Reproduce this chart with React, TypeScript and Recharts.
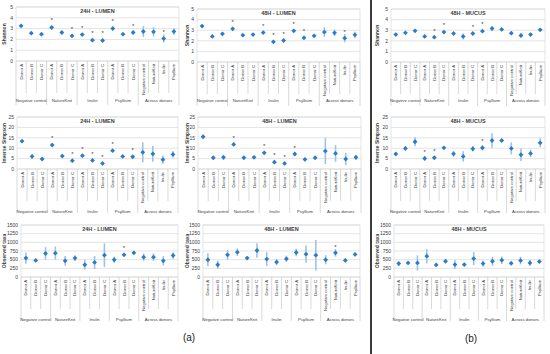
import React from "react";
import {
  ScatterChart,
  Scatter,
  XAxis,
  YAxis,
  CartesianGrid,
  ErrorBar,
  ReferenceArea,
} from "recharts";

// x-axis categories (donor level) and the treatment groups under them
const categories = [
  "Donor A", "Donor B", "Donor C",
  "Donor A", "Donor B", "Donor C",
  "Donor A", "Donor B", "Donor C",
  "Donor A", "Donor B", "Donor C",
  "Negative control", "NatureKnit", "Inulin", "Psyllium",
];
const groups = ["Negative control", "NatureKnit", "Inulin", "Psyllium", "Across donors"];
const groupStarts = [0, 3, 6, 9, 12, 16];

const shannonTicks = [0, 1, 2, 3, 4, 5];
const simpsonTicks = [0, 5, 10, 15, 20, 25];
const taxaTicks = [0, 250, 500, 750, 1000, 1250, 1500];

// Shannon
const shannon24Lumen = [3.26, 2.58, 2.48, 3.1, 2.64, 2.33, 2.45, 1.93, 1.9, 3.01, 2.48, 2.64, 2.73, 2.7, 2.08, 2.73];
const shannon24LumenErr = [0.06, 0.1, 0.05, 0.08, 0.06, 0.08, 0.12, 0.12, 0.12, 0.07, 0.05, 0.08, 0.5, 0.43, 0.38, 0.3];
const shannon24LumenStar = [null, null, null, 3.76, null, 2.95, 3.04, 2.55, 2.55, 3.66, null, 3.26, null, null, 2.72, null];

const shannon48Lumen = [3.39, 2.41, 2.66, 3.13, 2.53, 2.59, 2.78, 1.9, 2.03, 2.94, 2.28, 2.47, 2.82, 2.75, 2.25, 2.56];
const shannon48LumenErr = [0.06, 0.05, 0.15, 0.1, 0.05, 0.05, 0.08, 0.1, 0.1, 0.06, 0.06, 0.05, 0.45, 0.3, 0.4, 0.3];
const shannon48LumenStar = [null, null, null, 3.8, null, null, 3.42, 2.53, 2.66, 3.54, 2.88, null, null, null, 2.85, null];

const shannon48Mucus = [2.59, 2.75, 2.94, 2.41, 2.34, 2.82, 2.69, 2.41, 2.69, 2.91, 3.16, 3.07, 2.72, 2.5, 2.59, 3.04];
const shannon48MucusErr = [0.05, 0.05, 0.05, 0.15, 0.1, 0.1, 0.08, 0.28, 0.08, 0.1, 0.2, 0.05, 0.15, 0.2, 0.1, 0.12];
const shannon48MucusStar = [null, null, null, null, 2.97, 3.48, null, null, 3.29, 3.54, null, null, null, null, null, null];

// Inverse Simpson
const simpson24Lumen = [13.4, 6.05, 4.8, 11.5, 6.2, 4.0, 6.4, 4.1, 2.7, 8.8, 6.05, 5.9, 8.0, 7.3, 4.5, 7.0];
const simpson24LumenErr = [0.4, 1, 0.3, 0.8, 0.3, 0.6, 0.8, 0.8, 0.5, 0.6, 0.3, 0.6, 4.8, 3.8, 2, 1.6];
const simpson24LumenStar = [null, null, null, 14.8, null, 7.3, 9.7, 7.3, 5.9, 12.1, null, 9.2, null, null, null, null];

const simpson48Lumen = [15.5, 5.4, 5.6, 11.8, 5.4, 5.6, 7.8, 3.3, 2.7, 7.2, 4.6, 5.4, 8.6, 7.5, 4.8, 5.6];
const simpson48LumenErr = [1, 0.3, 1.3, 0.8, 0.3, 0.4, 0.6, 0.8, 0.4, 0.8, 0.4, 0.6, 6.2, 4, 3, 1.3];
const simpson48LumenStar = [null, null, null, 15.0, null, null, 11.1, 6.5, 6.0, 10.3, null, null, null, null, null, null];

const simpson48Mucus = [7.2, 9.9, 13.1, 5.1, 5.4, 10.2, 7.3, 6.05, 9.7, 10.2, 13.7, 13.7, 9.9, 6.85, 7.5, 12.6];
const simpson48MucusErr = [0.4, 1.2, 2.2, 1.2, 0.6, 0.4, 1.3, 2.5, 1.3, 1.3, 3.5, 0.5, 2.9, 3, 1.8, 2.2];
const simpson48MucusStar = [null, null, null, 8.3, 8.6, null, null, null, null, 13.4, null, null, null, null, null, null];

// Observed taxa
const taxa24Lumen = [545, 478, 678, 688, 468, 545, 354, 420, 630, 497, 640, 697, 573, 573, 468, 620];
const taxa24LumenErr = [160, 30, 180, 190, 140, 80, 140, 190, 340, 90, 40, 40, 105, 105, 135, 95];
const taxa24LumenStar = [null, null, null, null, null, null, null, null, null, null, 830, null, null, null, null, null];

const taxa48Lumen = [497, 354, 640, 716, 545, 764, 516, 430, 525, 707, 659, 630, 497, 697, 478, 650];
const taxa48LumenErr = [190, 120, 140, 110, 30, 210, 200, 90, 90, 110, 250, 440, 130, 110, 50, 50];
const taxa48LumenStar = [null, null, null, null, null, null, null, null, null, null, null, null, null, 870, null, null];

const taxa48Mucus = [387, 406, 406, 600, 348, 455, 358, 358, 532, 387, 455, 484, 397, 474, 406, 445];
const taxa48MucusErr = [70, 30, 220, 200, 40, 30, 130, 50, 190, 90, 130, 110, 20, 110, 90, 50];
const taxa48MucusStar = categories.map(() => null as number | null);

const MARKER = "#2b7bc8";
const ERRBAR = "#9dc3e6";
const TEXT = "#404040";
const GRID = "#d9d9d9";

const panels = [
  { title: "24H - LUMEN", yLabel: "Shannon", ticks: shannonTicks, values: shannon24Lumen, errors: shannon24LumenErr, stars: shannon24LumenStar, box: { x: 0, y: 0, w: 183, h: 106 }, plot: { l: 16, r: 179, t: 7, b: 61 }, groupY: 39 },
  { title: "48H - LUMEN", yLabel: "Shannon", ticks: shannonTicks, values: shannon48Lumen, errors: shannon48LumenErr, stars: shannon48LumenStar, box: { x: 183, y: 0, w: 185, h: 106 }, plot: { l: 197, r: 360, t: 9, b: 62 }, groupY: 38 },
  { title: "48H - MUCUS", yLabel: "Shannon", ticks: shannonTicks, values: shannon48Mucus, errors: shannon48MucusErr, stars: shannon48MucusStar, box: { x: 373, y: 0, w: 177, h: 106 }, plot: { l: 391, r: 545, t: 9, b: 62 }, groupY: 38 },
  { title: "24H - LUMEN", yLabel: "Inverse Simpson", ticks: simpsonTicks, values: simpson24Lumen, errors: simpson24LumenErr, stars: simpson24LumenStar, box: { x: 0, y: 106, w: 183, h: 108 }, plot: { l: 17, r: 178, t: 117, b: 169 }, groupY: 42 },
  { title: "48H - LUMEN", yLabel: "Inverse Simpson", ticks: simpsonTicks, values: simpson48Lumen, errors: simpson48LumenErr, stars: simpson48LumenStar, box: { x: 183, y: 106, w: 185, h: 108 }, plot: { l: 198, r: 361, t: 117, b: 169 }, groupY: 42 },
  { title: "48H - MUCUS", yLabel: "Inverse Simpson", ticks: simpsonTicks, values: simpson48Mucus, errors: simpson48MucusErr, stars: simpson48MucusStar, box: { x: 373, y: 106, w: 177, h: 108 }, plot: { l: 391, r: 545, t: 117, b: 169 }, groupY: 42 },
  { title: "24H - LUMEN", yLabel: "Observed taxa", ticks: taxaTicks, values: taxa24Lumen, errors: taxa24LumenErr, stars: taxa24LumenStar, box: { x: 0, y: 214, w: 183, h: 112 }, plot: { l: 21, r: 178, t: 225, b: 277 }, groupY: 42 },
  { title: "48H - LUMEN", yLabel: "Observed taxa", ticks: taxaTicks, values: taxa48Lumen, errors: taxa48LumenErr, stars: taxa48LumenStar, box: { x: 183, y: 214, w: 185, h: 112 }, plot: { l: 203, r: 360, t: 225, b: 277 }, groupY: 42 },
  { title: "48H - MUCUS", yLabel: "Observed taxa", ticks: taxaTicks, values: taxa48Mucus, errors: taxa48MucusErr, stars: taxa48MucusStar, box: { x: 373, y: 214, w: 177, h: 112 }, plot: { l: 394, r: 544, t: 225, b: 277 }, groupY: 42 },
];

// ticks at every category centre and every boundary
const xTicks: number[] = [];
categories.forEach((_, i) => xTicks.push(i, i + 0.5));
xTicks.push(categories.length);

const groupMid = (g: number) => (groupStarts[g] + groupStarts[g + 1]) / 2;

const CategoryTick = (props: any) => {
  const { x, y, payload, groupY } = props;
  const v = payload.value as number;
  const g = groups.findIndex((_, k) => groupMid(k) === v);
  const groupLabel =
    g >= 0 ? (
      <text x={x} y={y + groupY} textAnchor="middle" dominantBaseline="central" fontSize={4.3} fill={TEXT}>
        {groups[g]}
      </text>
    ) : null;
  if (Number.isInteger(v)) {
    const isGroup = groupStarts.includes(v);
    return (
      <g>
        <line x1={x} x2={x} y1={y} y2={y + (isGroup ? 44 : 32)} stroke="#bfbfbf" strokeWidth={0.6} />
        {groupLabel}
      </g>
    );
  }
  const i = Math.floor(v);
  return (
    <g>
      <text
        transform={`translate(${x},${y + 3}) rotate(-90)`}
        textAnchor="end"
        dominantBaseline="central"
        fontSize={4.3}
        fill={TEXT}
      >
        {categories[i]}
      </text>
      {groupLabel}
    </g>
  );
};

const Diamond = (p: any) => {
  const { cx, cy } = p;
  if (cx == null || cy == null) return null;
  const s = 2.4;
  return <polygon points={`${cx},${cy - s} ${cx + s},${cy} ${cx},${cy + s} ${cx - s},${cy}`} fill={MARKER} />;
};

const Star = (p: any) => {
  const { cx, cy } = p;
  if (cx == null || cy == null) return null;
  return (
    <text x={cx} y={cy + 2} textAnchor="middle" fontSize={6} fill={TEXT}>
      *
    </text>
  );
};

const Panel = ({ panel }: { panel: (typeof panels)[number] }) => {
  const { box, plot, ticks } = panel;
  const yMax = ticks[ticks.length - 1];
  const rows = categories.map((c, i) => ({ x: i + 0.5, y: panel.values[i], e: panel.errors[i], name: c }));
  const starRows = categories
    .map((_, i) => ({ x: i + 0.5, y: panel.stars[i] }))
    .filter((r) => r.y != null);
  const margin = { top: plot.t - box.y, right: box.x + box.w - plot.r, bottom: 0, left: 0 };
  return (
    <div style={{ position: "absolute", left: box.x, top: box.y }}>
      <ScatterChart width={box.w} height={box.h} margin={margin}>
        <CartesianGrid vertical={false} stroke={GRID} strokeWidth={0.7} />
        <ReferenceArea
          x1={0}
          x2={categories.length}
          y1={0}
          y2={yMax}
          fill="none"
          fillOpacity={0}
          stroke={GRID}
          strokeWidth={0.7}
          label={{ value: panel.title, position: "insideTop", offset: 2, fontSize: 5.5, fontWeight: "bold", fill: TEXT }}
        />
        <XAxis
          type="number"
          dataKey="x"
          domain={[0, categories.length]}
          ticks={xTicks}
          interval={0}
          height={box.y + box.h - plot.b}
          tickSize={0}
          tickMargin={0}
          axisLine={false}
          tickLine={false}
          tick={(p: any) => <CategoryTick {...p} groupY={panel.groupY} />}
        />
        <YAxis
          type="number"
          dataKey="y"
          domain={[0, yMax]}
          ticks={ticks}
          interval={0}
          width={plot.l - box.x}
          tickSize={0}
          tickMargin={3}
          axisLine={false}
          tickLine={false}
          tick={{ fontSize: 5, fill: TEXT }}
          label={{
            value: panel.yLabel,
            angle: -90,
            position: "insideLeft",
            offset: 4,
            fontSize: 5,
            fontWeight: "bold",
            fill: TEXT,
            style: { textAnchor: "middle" },
          }}
        />
        <Scatter data={rows} shape={Diamond} isAnimationActive={false}>
          <ErrorBar dataKey="e" direction="y" width={0} stroke={ERRBAR} strokeWidth={1.6} />
        </Scatter>
        <Scatter data={starRows} shape={Star} isAnimationActive={false} />
      </ScatterChart>
    </div>
  );
};

export default function App() {
  return (
    <div
      style={{
        position: "absolute",
        left: 0,
        top: 0,
        width: 550,
        height: 354,
        background: "#fff",
        fontFamily: "'Liberation Sans', Arial, sans-serif",
        overflow: "hidden",
      }}
    >
      {panels.map((p, i) => (
        <Panel key={i} panel={p} />
      ))}
      <div style={{ position: "absolute", left: 370, top: 0, width: 2, height: 354, background: "#3a3a3a" }} />
      <div style={{ position: "absolute", left: 176, top: 332, width: 26, textAlign: "center", fontSize: 10, color: "#222" }}>
        (a)
      </div>
      <div style={{ position: "absolute", left: 458, top: 333, width: 26, textAlign: "center", fontSize: 10, color: "#222" }}>
        (b)
      </div>
    </div>
  );
}
